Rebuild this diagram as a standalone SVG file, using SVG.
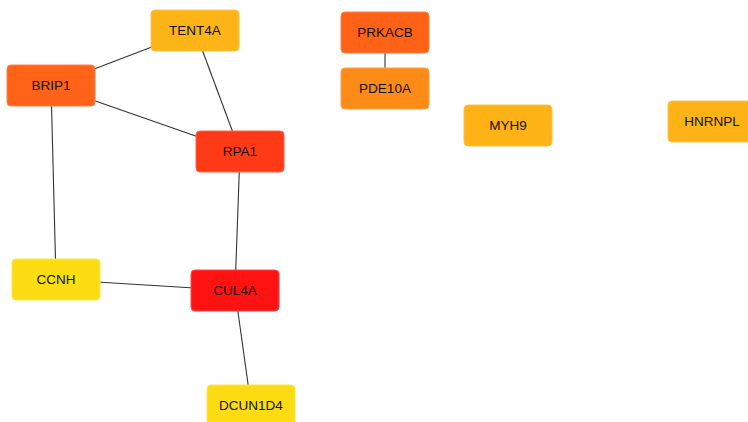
<svg xmlns="http://www.w3.org/2000/svg" width="748" height="422" viewBox="0 0 748 422">
<style>
.n rect{stroke-width:1;}
.n text{font-family:"Liberation Sans",Arial,sans-serif;font-size:13.5px;fill:#111;text-anchor:middle;dominant-baseline:central;}
#edges line{stroke:#333;stroke-width:1.1;}
</style>
<rect width="748" height="422" fill="#fff"/>
<g id="edges">
<line x1="195" y1="30.5" x2="51" y2="85.5"/>
<line x1="51" y1="85.5" x2="240" y2="151.5"/>
<line x1="195" y1="30.5" x2="240" y2="151.5"/>
<line x1="51" y1="85.5" x2="56" y2="279.5"/>
<line x1="240" y1="151.5" x2="235" y2="290.5"/>
<line x1="56" y1="279.5" x2="235" y2="290.5"/>
<line x1="235" y1="290.5" x2="251" y2="405.5"/>
<line x1="385" y1="32.5" x2="385" y2="88.5"/>
</g>
<g id="TENT4A" class="n"><rect x="151" y="10" width="88" height="41" rx="4" fill="#FDB416" stroke="#FDC24A"/><text x="195" y="30.5">TENT4A</text></g>
<g id="BRIP1" class="n"><rect x="7" y="65" width="88" height="41" rx="4" fill="#FE6317" stroke="#FE8048"/><text x="51" y="85.5">BRIP1</text></g>
<g id="RPA1" class="n"><rect x="196" y="131" width="88" height="41" rx="4" fill="#FF3A17" stroke="#FF6048"/><text x="240" y="151.5">RPA1</text></g>
<g id="PRKACB" class="n"><rect x="341" y="12" width="88" height="41" rx="4" fill="#FE6217" stroke="#FE8048"/><text x="385" y="32.5">PRKACB</text></g>
<g id="PDE10A" class="n"><rect x="341" y="68" width="88" height="41" rx="4" fill="#FE8B17" stroke="#FEA048"/><text x="385" y="88.5">PDE10A</text></g>
<g id="MYH9" class="n"><rect x="464" y="105" width="88" height="41" rx="4" fill="#FDB216" stroke="#FDC24A"/><text x="508" y="125.5">MYH9</text></g>
<g id="HNRNPL" class="n"><rect x="668" y="101" width="88" height="41" rx="4" fill="#FDB216" stroke="#FDC24A"/><text x="712" y="121.5">HNRNPL</text></g>
<g id="CCNH" class="n"><rect x="12" y="259" width="88" height="41" rx="4" fill="#FDDC14" stroke="#FDE54A"/><text x="56" y="279.5">CCNH</text></g>
<g id="CUL4A" class="n"><rect x="191" y="270" width="88" height="41" rx="4" fill="#FF1212" stroke="#FF4848"/><text x="235" y="290.5">CUL4A</text></g>
<g id="DCUN1D4" class="n"><rect x="207" y="385" width="88" height="41" rx="4" fill="#FDDC14" stroke="#FDE54A"/><text x="251" y="405.5">DCUN1D4</text></g>
</svg>
